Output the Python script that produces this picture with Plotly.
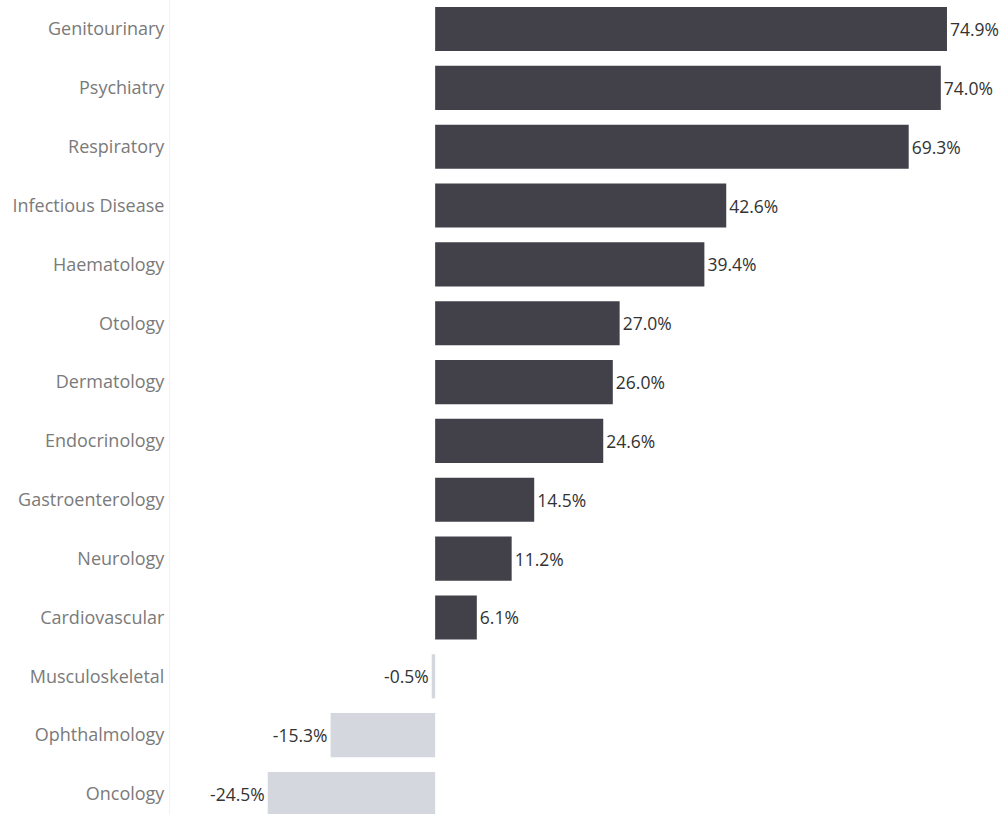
import plotly.graph_objects as go

categories = [
    "Genitourinary", "Psychiatry", "Respiratory", "Infectious Disease",
    "Haematology", "Otology", "Dermatology", "Endocrinology",
    "Gastroenterology", "Neurology", "Cardiovascular", "Musculoskeletal",
    "Ophthalmology", "Oncology",
]
values = [74.9, 74.0, 69.3, 42.6, 39.4, 27.0, 26.0, 24.6, 14.5, 11.2, 6.1, -0.5, -15.3, -24.5]

POS_COLOR = "#42414a"
NEG_COLOR = "#d5d7de"
colors = [POS_COLOR if v >= 0 else NEG_COLOR for v in values]
labels = [f"{v:.1f}%" for v in values]

fig = go.Figure(
    go.Bar(
        x=values,
        y=categories,
        orientation="h",
        marker=dict(color=colors, line=dict(width=0)),
        width=0.75,
        text=labels,
        textposition="outside",
        textfont=dict(family="Open Sans", size=17.5, color="#333333"),
        cliponaxis=False,
        hoverinfo="skip",
    )
)

fig.update_layout(
    width=1003,
    height=814,
    margin=dict(l=170, r=0, t=0, b=0),
    paper_bgcolor="white",
    plot_bgcolor="white",
    showlegend=False,
    bargap=0.25,
)

fig.update_xaxes(
    range=[-38.8, 83.1],
    showgrid=False,
    zeroline=False,
    showticklabels=False,
    showline=False,
)

fig.update_yaxes(
    type="category",
    categoryorder="array",
    categoryarray=categories,
    range=[13.34, -0.493],
    showgrid=False,
    zeroline=False,
    showline=True,
    linecolor="#f2f2f2",
    linewidth=1,
    ticks="",
    ticklabelstandoff=1,
    tickfont=dict(family="Open Sans", size=18, color="#7a7a7a"),
)

fig.write_html("out.html")
